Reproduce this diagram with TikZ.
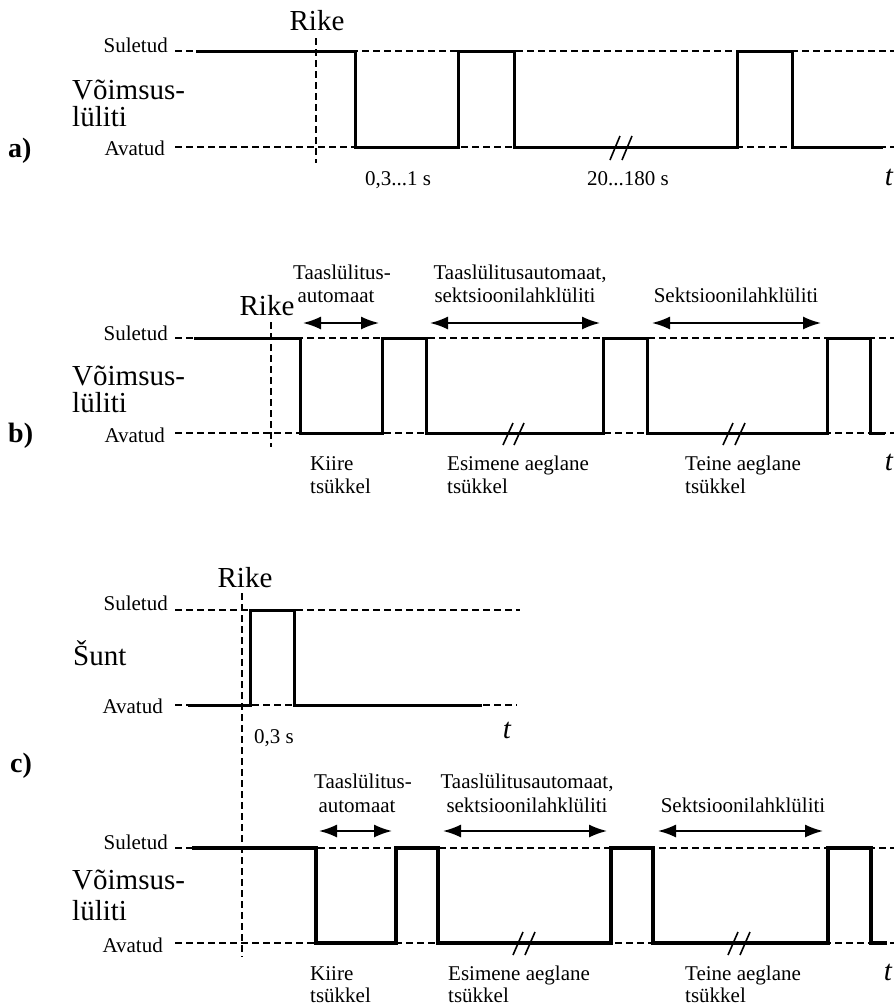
\documentclass[tikz,border=0pt]{standalone}
\usepackage{fontspec}
\setmainfont{Liberation Serif}
\usetikzlibrary{arrows.meta}
\begin{document}
\begin{tikzpicture}[x=1pt,y=-1pt,
  sm/.style={font=\fontsize{21}{23}\selectfont, inner sep=0pt},
  bg/.style={font=\fontsize{29}{31}\selectfont, inner sep=0pt},
  pl/.style={font=\fontsize{28}{30}\selectfont\bfseries, inner sep=0pt},
  tv/.style={font=\fontsize{29}{31}\selectfont\itshape, inner sep=0pt},
  guide/.style={dash pattern=on 7pt off 4pt, line width=1.8pt},
  sig/.style={line width=3pt, line join=miter},
  sigb/.style={line width=3.6pt, line join=miter},
  dbl/.style={line width=1.8pt, {Latex[length=18pt,width=13pt]}-{Latex[length=18pt,width=13pt]}},
  brk/.style={line width=1.6pt}]
\useasboundingbox (0,0) rectangle (894,1005);

% ---------------- panel a ----------------
\draw[guide] (175,51) -- (894,51);
\draw[guide] (175,147) -- (894,147);
\draw[guide] (316,38) -- (316,163);
\draw[sig] (196,51) -- (355,51) -- (355,147) -- (458,147) -- (458,51) -- (514,51) -- (514,147) -- (737,147) -- (737,51) -- (792,51) -- (792,147) -- (883,147);
\draw[brk] (610,160) -- (620,136) (622,160) -- (632,136);
\node[bg, anchor=base] (rikea) at (317,30) {Rike};
\node[sm, anchor=base east] (sula) at (168,52) {Suletud};
\node[sm, anchor=base east] (avaa) at (165,155) {Avatud};
\node[bg, anchor=base west] (vka) at (72,99) {Võimsus-};
\node[bg, anchor=base west] (lla) at (72,126) {lüliti};
\node[pl, anchor=base west] (pa) at (8,157) {a)};
\node[sm, anchor=base] (ta1) at (398,185) {0,3...1 s};
\node[sm, anchor=base] (ta2) at (628,185) {20...180 s};
\node[tv, anchor=base] (tta) at (889,185) {t};

% ---------------- panel b ----------------
\draw[guide] (175,338) -- (894,338);
\draw[guide] (175,433) -- (894,433);
\draw[guide] (271,322) -- (271,447);
\draw[sig] (194,338) -- (300,338) -- (300,433) -- (382,433) -- (382,338) -- (426,338) -- (426,433) -- (603,433) -- (603,338) -- (647,338) -- (647,433) -- (827,433) -- (827,338) -- (870,338) -- (870,433) -- (885,433);
\draw[brk] (503,445) -- (513,423) (514,445) -- (524,423);
\draw[brk] (723,445) -- (733,423) (735,445) -- (745,423);
\coordinate (b1l) at (303,323); \coordinate (b1r) at (379,323);
\coordinate (b2l) at (430,323); \coordinate (b2r) at (600,323);
\coordinate (b3l) at (652,323); \coordinate (b3r) at (821,323);
\draw[dbl] (b1l) -- (b1r);
\draw[dbl] (b2l) -- (b2r);
\draw[dbl] (b3l) -- (b3r);
\node[sm, anchor=base] (tb1) at (342,279) {Taaslülitus-};
\node[sm, anchor=base] (tb2) at (336,302) {automaat};
\node[bg, anchor=base] (rikeb) at (267,315) {Rike};
\node[sm, anchor=base] (tb3) at (520,279) {Taaslülitusautomaat,};
\node[sm, anchor=base] (tb4) at (515,302) {sektsioonilahklüliti};
\node[sm, anchor=base] (tb5) at (736,302) {Sektsioonilahklüliti};
\node[sm, anchor=base east] (sulb) at (168,340) {Suletud};
\node[sm, anchor=base east] (avab) at (165,442) {Avatud};
\node[bg, anchor=base west] (vkb) at (72,385) {Võimsus-};
\node[bg, anchor=base west] (llb) at (72,412) {lüliti};
\node[pl, anchor=base west] (pb) at (8,442) {b)};
\node[sm, anchor=base west] (kb1) at (310,470) {Kiire};
\node[sm, anchor=base west] (kb2) at (310,493) {tsükkel};
\node[sm, anchor=base west] (eb1) at (447,470) {Esimene aeglane};
\node[sm, anchor=base west] (eb2) at (447,493) {tsükkel};
\node[sm, anchor=base west] (sb1) at (685,470) {Teine aeglane};
\node[sm, anchor=base west] (sb2) at (685,493) {tsükkel};
\node[tv, anchor=base] (ttb) at (889,470) {t};

% ---------------- panel c, shunt ----------------
\draw[guide] (175,610) -- (520,610);
\draw[guide] (175,705) -- (517,705);
\draw[guide] (242,593) -- (242,957);
\draw[sig] (188,705) -- (250,705) -- (250,610) -- (294,610) -- (294,705) -- (482,705);
\node[bg, anchor=base] (rikec) at (245,587) {Rike};
\node[sm, anchor=base east] (sulc) at (168,610) {Suletud};
\node[sm, anchor=base east] (avac) at (163,713) {Avatud};
\node[bg, anchor=base west] (sunt) at (73,665) {Šunt};
\node[sm, anchor=base west] (tc0) at (254,743) {0,3 s};
\node[tv, anchor=base] (ttc) at (507,738) {t};
\node[pl, anchor=base west] (pc) at (10,772) {c)};

% ---------------- panel c, breaker ----------------
\draw[guide] (175,848) -- (894,848);
\draw[guide] (175,943) -- (894,943);
\draw[sigb] (192,848) -- (316,848) -- (316,943) -- (396,943) -- (396,848) -- (438,848) -- (438,943) -- (611,943) -- (611,848) -- (653,848) -- (653,943) -- (828,943) -- (828,848) -- (871,848) -- (871,943) -- (887,943);
\draw[brk] (513,955) -- (523,932) (525,955) -- (535,932);
\draw[brk] (728,955) -- (738,932) (740,955) -- (750,932);
\coordinate (c1l) at (319,831); \coordinate (c1r) at (392,831);
\coordinate (c2l) at (443,831); \coordinate (c2r) at (607,831);
\coordinate (c3l) at (658,831); \coordinate (c3r) at (823,831);
\draw[dbl] (c1l) -- (c1r);
\draw[dbl] (c2l) -- (c2r);
\draw[dbl] (c3l) -- (c3r);
\node[sm, anchor=base] (tc1) at (363,788) {Taaslülitus-};
\node[sm, anchor=base] (tc2) at (357,812) {automaat};
\node[sm, anchor=base] (tc3) at (527,788) {Taaslülitusautomaat,};
\node[sm, anchor=base] (tc4) at (527,812) {sektsioonilahklüliti};
\node[sm, anchor=base] (tc5) at (743,812) {Sektsioonilahklüliti};
\node[sm, anchor=base east] (sulc2) at (168,849) {Suletud};
\node[sm, anchor=base east] (avac2) at (163,952) {Avatud};
\node[bg, anchor=base west] (vkc) at (72,889) {Võimsus-};
\node[bg, anchor=base west] (llc) at (72,920) {lüliti};
\node[sm, anchor=base west] (kc1) at (310,980) {Kiire};
\node[sm, anchor=base west] (kc2) at (310,1002) {tsükkel};
\node[sm, anchor=base west] (ec1) at (448,980) {Esimene aeglane};
\node[sm, anchor=base west] (ec2) at (448,1002) {tsükkel};
\node[sm, anchor=base west] (sc1) at (685,980) {Teine aeglane};
\node[sm, anchor=base west] (sc2) at (685,1002) {tsükkel};
\node[tv, anchor=base] (ttc2) at (888,980) {t};
\end{tikzpicture}
\end{document}
